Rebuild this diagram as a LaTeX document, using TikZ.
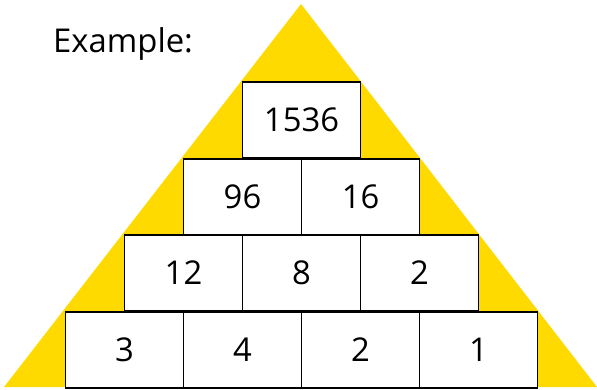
\documentclass[tikz,border=0pt]{standalone}
\usepackage{fontspec}
\setmainfont{Open Sans}
\usepackage{tikz}
\usetikzlibrary{positioning}
\usepackage{xcolor}
\definecolor{pyryellow}{HTML}{FFDA00}

\begin{document}
\begin{tikzpicture}[x=0.03cm, y=-0.03cm,
  brick/.style={draw, line width=1pt, fill=white, minimum width=3.54cm, minimum height=2.28cm, inner sep=0pt, font=\fontsize{28}{32}\selectfont}]
\useasboundingbox (0,0) rectangle (597,389);
% Yellow pyramid
\fill[pyryellow] (301,4) -- (4,387) -- (597,387) -- cycle;

% Caption
\node[anchor=base west, inner sep=0pt, font=\fontsize{28}{32}\selectfont] (title) at (53,52) {Example:};

% Bottom row
\node[brick] (b1) at (124.5,350) {3};
\node[brick] (b2) at (242.5,350) {4};
\node[brick] (b3) at (360.5,350) {2};
\node[brick] (b4) at (478.5,350) {1};

% Third row
\node[brick] (c1) at (183.5,273) {12};
\node[brick] (c2) at (301.5,273) {8};
\node[brick] (c3) at (419.5,273) {2};

% Second row
\node[brick] (d1) at (242.5,197) {96};
\node[brick] (d2) at (360.5,197) {16};

% Top
\node[brick] (top) at (301.5,120) {1536};
\end{tikzpicture}
\end{document}
